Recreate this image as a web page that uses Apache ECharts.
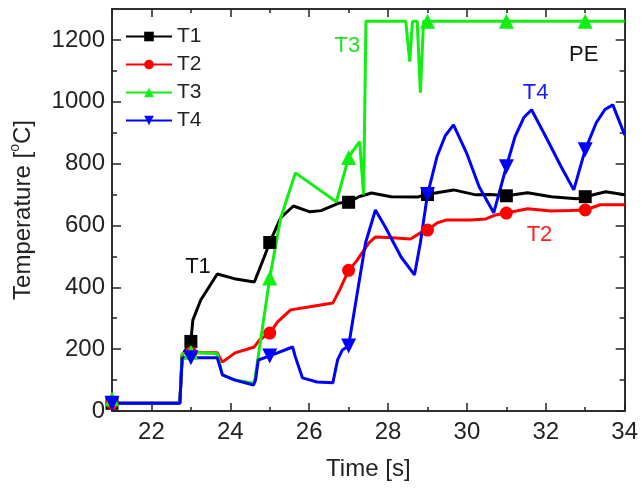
<!DOCTYPE html>
<html>
<head>
<meta charset="utf-8">
<script src="https://cdn.jsdelivr.net/npm/echarts@6/dist/echarts.min.js"></script>
<style>
  html, body { margin: 0; padding: 0; background: #fff; }
  #main { width: 641px; height: 490px; }
</style>
</head>
<body>
<div id="main"></div>
<script>
// values: [time s, temperature C]
const t1 = [[21,25],[22.72,25],[22.78,180],[23,225],[23.05,294],[23.25,359],[23.38,385],[23.67,443],[24.1,428],[24.61,417],[24.86,498],[25,545],[25.28,625],[25.6,663],[26.02,644],[26.3,648],[26.77,673],[27,675],[27.26,693],[27.58,705],[28.08,693],[28.75,692],[29,700],[29.24,706],[29.66,715],[30.23,699],[30.6,700],[31,696],[31.54,706],[32.14,693],[32.78,686],[33,693],[33.52,709],[34,699]]
const t2 = [[21,25],[22.72,25],[22.78,185],[23,188],[23.67,188],[23.8,158],[24.12,188],[24.61,207],[24.74,230],[25,252],[25.2,288],[25.53,327],[26.02,337],[26.6,349],[26.77,391],[27,455],[27.19,483],[27.51,543],[27.68,563],[28.1,560],[28.57,556],[28.82,576],[29,585],[29.24,608],[29.49,618],[30.1,618],[30.48,621],[30.73,634],[31,640],[31.54,654],[32.14,647],[32.6,648],[33,650],[33.38,667],[34,667]]
const t3 = [[21,40],[21.1,25],[22.72,25],[22.78,185],[23,190],[23.67,185],[23.8,117],[24.12,100],[24.59,90],[24.62,100],[25,430],[25.28,625],[25.65,770],[26.69,677],[27,820],[27.09,838],[27.28,871],[27.38,700],[27.44,1260],[28.45,1260],[28.55,1130],[28.62,1260],[28.74,1260],[28.82,1029],[28.9,1260],[29,1260],[31,1260],[33,1260],[34,1260]]
const t4 = [[21,25],[22.72,25],[22.78,172],[23,172],[23.67,172],[23.8,117],[24.12,100],[24.59,84],[24.64,100],[24.71,165],[25,178],[25.58,207],[25.65,175],[25.83,107],[26.2,94],[26.6,91],[26.72,165],[26.84,197],[27,210],[27.19,359],[27.43,544],[27.68,650],[27.93,595],[28.33,498],[28.67,440],[28.82,544],[29,700],[29.24,822],[29.45,890],[29.66,925],[29.99,835],[30.31,725],[30.68,641],[31,790],[31.22,887],[31.45,950],[31.64,974],[32.04,877],[32.39,790],[32.71,715],[33,845],[33.28,932],[33.5,975],[33.7,990],[34,893]]
const markerTimes = [21, 23, 25, 27, 29, 31, 33]

const xMajor = [22, 24, 26, 28, 30, 32, 34]
const xMinor = [21, 23, 25, 27, 29, 31, 33]
const yMajor = [0, 200, 400, 600, 800, 1000, 1200]
const yMinor = [100, 300, 500, 700, 900, 1100]

const font = 'Liberation Sans, Arial, sans-serif'
const axisColor = '#222'

function withMarkers(points) {
  return points.map(p => markerTimes.includes(p[0]) ? { value: p } : { value: p, symbol: 'none' })
}

function xAx(ticks, len, pos, label) {
  return {
    type: 'value', min: 21, max: 34, position: pos,
    axisLine: { show: true, onZero: false, lineStyle: { color: axisColor, width: 1.5 } },
    axisTick: { show: true, inside: true, length: len, customValues: ticks, lineStyle: { color: axisColor, width: 1.5 } },
    axisLabel: label ? { customValues: ticks, fontSize: 24, color: '#222', margin: 9, fontFamily: font, formatter: v => String(v) } : { show: false },
    splitLine: { show: false }
  }
}

function yAx(ticks, len, pos, label) {
  return {
    type: 'value', min: 0, max: 1300, position: pos,
    axisLine: { show: true, onZero: false, lineStyle: { color: axisColor, width: 1.5 } },
    axisTick: { show: true, inside: true, length: len, customValues: ticks, lineStyle: { color: axisColor, width: 1.5 } },
    axisLabel: label ? { customValues: ticks, fontSize: 24, color: '#222', margin: 7, fontFamily: font, formatter: v => String(v) } : { show: false },
    splitLine: { show: false }
  }
}

const xBottom = xAx(xMajor, 8, 'bottom', true)
xBottom.name = 'Time [s]'
xBottom.nameLocation = 'middle'
xBottom.nameGap = 46
xBottom.nameTextStyle = { fontSize: 24, color: '#222', fontFamily: font }

const yLeft = yAx(yMajor, 9, 'left', true)
yLeft.name = 'Temperature [{sup|o}C]'
yLeft.nameLocation = 'middle'
yLeft.nameGap = 74
yLeft.nameTextStyle = {
  fontSize: 24, color: '#222', fontFamily: font,
  rich: { sup: { fontSize: 14, color: '#222', fontFamily: font, verticalAlign: 'top', lineHeight: 30 } }
}

function label(text, x, y, color) {
  return {
    coord: [x, y], symbol: 'circle', symbolSize: 0,
    label: { show: true, position: 'inside', formatter: text, color: color, fontSize: 22, fontFamily: font }
  }
}

function lineSeries(name, data, color, symbol, size, rotate, labels) {
  return {
    name: name, type: 'line', data: withMarkers(data),
    xAxisIndex: 0, yAxisIndex: 0,
    symbol: symbol, symbolSize: size, symbolRotate: rotate,
    showSymbol: true, clip: true,
    lineStyle: { color: color, width: 3 },
    itemStyle: { color: color },
    markPoint: { silent: true, data: labels }
  }
}

const option = {
  animation: false,
  backgroundColor: '#fff',
  grid: { left: 107, right: 9, top: 9, bottom: 79 },
  legend: {
    data: ['T1', 'T2', 'T3', 'T4'],
    orient: 'vertical', left: 120, top: 21,
    itemWidth: 46, itemHeight: 12, itemGap: 7,
    textStyle: { fontSize: 21, color: '#222', fontFamily: font }
  },
  xAxis: [xBottom, xAx(xMinor, 4, 'bottom', false), xAx(xMajor, 8, 'top', false), xAx(xMinor, 4, 'top', false)],
  yAxis: [yLeft, yAx(yMinor, 5, 'left', false), yAx(yMajor, 9, 'right', false), yAx(yMinor, 5, 'right', false)],
  series: [
    lineSeries('T1', t1, '#000000', 'rect', 13, 0, [label('T1', 23.18, 466, '#111'), label('PE', 32.96, 1152, '#111')]),
    lineSeries('T2', t2, '#ff0000', 'circle', 13, 0, [label('T2', 31.84, 570, '#ff2020')]),
    lineSeries('T3', t3, '#11ee11', 'triangle', 15, 0, [label('T3', 26.97, 1180, '#22e022')]),
    lineSeries('T4', t4, '#0000ff', 'triangle', 15, 180, [label('T4', 31.74, 1029, '#1a1aff')])
  ]
}

const chart = echarts.init(document.getElementById('main'))
chart.setOption(option)
</script>
</body>
</html>
